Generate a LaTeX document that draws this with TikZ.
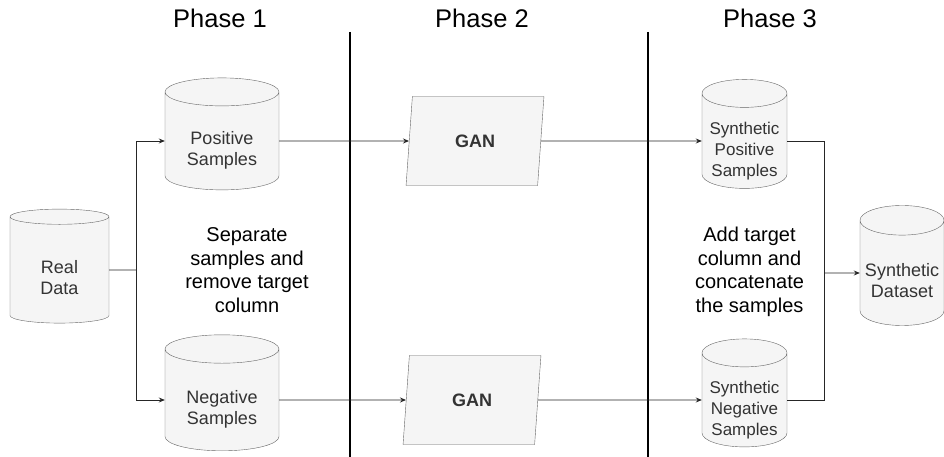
\documentclass[tikz,border=0pt]{standalone}
\usepackage{fontspec}
\setmainfont{Liberation Sans}
\usepackage{tikz}
\usetikzlibrary{arrows.meta,shapes.geometric,positioning}
\definecolor{boxfill}{HTML}{F5F5F5}
\definecolor{boxline}{HTML}{666666}
\definecolor{boxtext}{HTML}{333333}
% text of a data store, set a little below the middle of the cylinder
\newcommand{\dblines}[1]{\raisebox{-10pt}[\height][\depth]{\begin{tabular}{@{}c@{}}#1\end{tabular}}}
\tikzset{
  db/.style={cylinder, shape border rotate=90, aspect=0.4, draw=boxline, fill=boxfill,
    text=boxtext, inner sep=0pt, font=\fontsize{18}{21}\selectfont},
  dbsmall/.style={db, font=\fontsize{17}{21}\selectfont},
  gan/.style={trapezium, trapezium left angle=81, trapezium right angle=99,
    trapezium stretches=true, minimum width=138, minimum height=89, draw=boxline,
    fill=boxfill, text=boxtext, inner sep=0pt, font=\fontsize{18}{21}\selectfont\bfseries},
  conn/.style={draw=black!85, line width=0.9pt},
  arr/.style={conn, -{Stealth[length=6pt,width=5pt]}},
  divider/.style={black, line width=1.5pt},
  phase/.style={anchor=base, font=\fontsize{25.5}{30}\selectfont},
  note/.style={align=center, font=\fontsize{20}{23.5}\selectfont}
}
\begin{document}
\begin{tikzpicture}[x=1pt,y=-1pt]
\useasboundingbox (0,0) rectangle (944,457);
% phases
\node[phase] (ph1) at (220,28) {Phase 1};
\node[phase] (ph2) at (482,28) {Phase 2};
\node[phase] (ph3) at (770,28) {Phase 3};
\coordinate (div1top) at (350,32);
\coordinate (div1bot) at (350,457);
\coordinate (div2top) at (648,32);
\coordinate (div2bot) at (648,457);
\draw[divider] (div1top) -- (div1bot);
\draw[divider] (div2top) -- (div2bot);

% data stores
\node[db, minimum width=99, minimum height=114] (real) at (59.5,270) {\dblines{Real\\Data}};
\node[db, minimum width=114, minimum height=112] (pos) at (222,141) {\dblines{Positive\\Samples}};
\node[db, minimum width=114, minimum height=116] (neg) at (222,400) {\dblines{Negative\\Samples}};
\node[dbsmall, minimum width=85, minimum height=109] (synpos) at (744.5,141) {\dblines{Synthetic\\Positive\\Samples}};
\node[dbsmall, minimum width=85, minimum height=108] (synneg) at (744.5,400) {\dblines{Synthetic\\Negative\\Samples}};
\node[db, minimum width=84, minimum height=120] (synds) at (902,273) {\dblines{Synthetic\\Dataset}};

% generators
\node[gan] (gan1) at (475,141) {GAN};
\node[gan] (gan2) at (472,400) {GAN};

% notes
\node[note] (sep) at (247,270) {Separate\\samples and\\remove target\\column};
\node[note] (add) at (749.5,272) {Add target\\column and\\concatenate\\the samples};

% connectors
\coordinate (split) at (136,270);
\coordinate (merge) at (824,273);
\draw[conn] (real.east) -- (split);
\draw[arr] (split) |- (pos.west);
\draw[arr] (split) |- (neg.west);
\draw[arr] (pos.east) -- (gan1.west);
\draw[arr] (neg.east) -- (gan2.west);
\draw[arr] (gan1.east) -- (synpos.west);
\draw[arr] (gan2.east) -- (synneg.west);
\draw[conn] (synpos.east) -| (merge);
\draw[conn] (synneg.east) -| (merge);
\draw[arr] (merge) -- (synds.west);
\end{tikzpicture}
\end{document}
